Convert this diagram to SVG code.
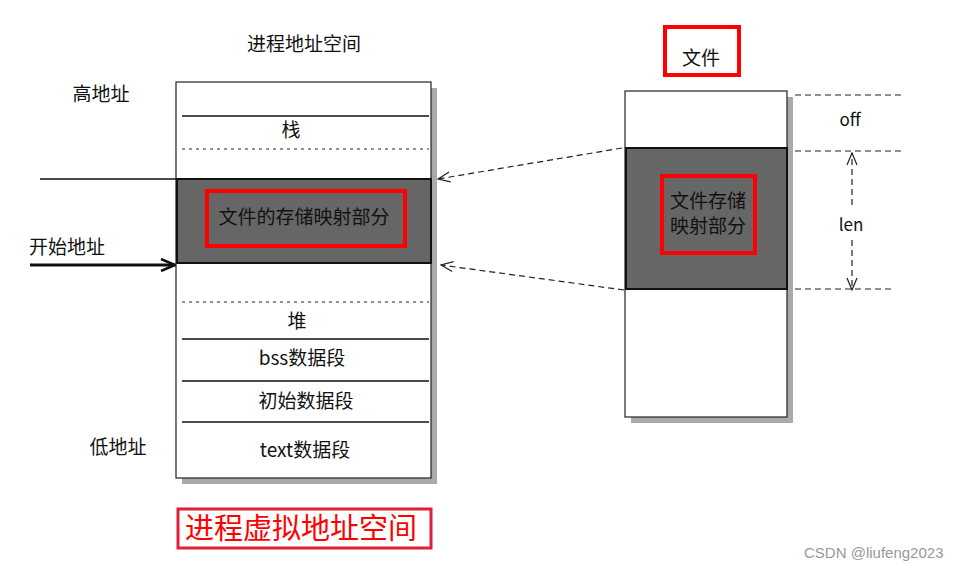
<svg xmlns="http://www.w3.org/2000/svg" width="970" height="571" viewBox="0 0 970 571">
<defs>
<style>
text{font-family:"Noto Sans CJK SC","DejaVu Sans",sans-serif;fill:#111;font-size:19px}
.c{text-anchor:middle}
.box{fill:#fff;stroke:#222;stroke-width:1.2}
.shadow{fill:#aaa}
.dark{fill:#666;stroke:#111;stroke-width:2}
.sep{stroke:#111;stroke-width:1.5}
.dot{stroke:#222;stroke-width:1;stroke-dasharray:3 4}
.dash{stroke:#222;stroke-width:1.2;stroke-dasharray:6 4;fill:none}
.red{fill:none;stroke:#f00;stroke-width:4}
</style>
<marker id="open" markerWidth="14" markerHeight="12" refX="13" refY="6" orient="auto" markerUnits="userSpaceOnUse">
<path d="M1,1 L13,6 L1,11" fill="none" stroke="#222" stroke-width="1.2"/>
</marker>
<marker id="bold" markerWidth="16" markerHeight="14" refX="15" refY="7" orient="auto" markerUnits="userSpaceOnUse">
<path d="M1,1 L15,7 L1,13" fill="none" stroke="#111" stroke-width="2.5"/>
</marker>
</defs>
<rect width="970" height="571" fill="#fff"/>

<g id="process-space">
<rect class="shadow" x="182" y="88" width="255" height="396"/>
<rect class="box" x="176" y="82" width="255" height="396"/>
<line class="sep" x1="182" y1="116" x2="429" y2="116"/>
<text class="c" x="291" y="137">栈</text>
<line class="dot" x1="182" y1="149" x2="429" y2="149"/>
<rect class="dark" x="177" y="179" width="254" height="84"/>
<rect class="red" x="207" y="191" width="198" height="55"/>
<text class="c" x="304" y="224">文件的存储映射部分</text>
<line class="dot" x1="182" y1="302" x2="429" y2="302"/>
<text class="c" x="297" y="328">堆</text>
<line class="sep" x1="182" y1="339" x2="429" y2="339"/>
<text class="c" x="302" y="365">bss数据段</text>
<line class="sep" x1="182" y1="381" x2="429" y2="381"/>
<text class="c" x="306" y="408">初始数据段</text>
<line class="sep" x1="182" y1="422" x2="429" y2="422"/>
<text class="c" x="305" y="457">text数据段</text>
</g>

<g id="labels-left">
<text class="c" x="304" y="51">进程地址空间</text>
<text class="c" x="101" y="101">高地址</text>
<text class="c" x="118" y="454">低地址</text>
<text class="c" x="67" y="254">开始地址</text>
</g>

<g id="file">
<rect class="red" x="665" y="27" width="74" height="48"/>
<text class="c" x="701" y="65">文件</text>
<rect class="shadow" x="631" y="97" width="162" height="326"/>
<rect class="box" x="625" y="91" width="162" height="326"/>
<rect class="dark" x="626" y="148" width="161" height="141"/>
<rect class="red" x="662" y="176" width="93" height="77"/>
<text class="c" x="708" y="208">文件存储</text>
<text class="c" x="708" y="233">映射部分</text>
<text class="c" x="850" y="126" style="font-size:17px">off</text>
<text class="c" x="851" y="231" style="font-size:17px">len</text>
</g>

<g id="connectors">
<line class="sep" x1="40" y1="179" x2="176" y2="179"/>
<line x1="30" y1="265" x2="175" y2="265" stroke="#111" stroke-width="3" marker-end="url(#bold)"/>
<line class="dash" x1="622" y1="148" x2="438" y2="179" marker-end="url(#open)"/>
<line class="dash" x1="624" y1="290" x2="441" y2="265" marker-end="url(#open)"/>
<line class="dash" x1="795" y1="95" x2="903" y2="95"/>
<line class="dash" x1="795" y1="151" x2="905" y2="151"/>
<line class="dash" x1="795" y1="289" x2="893" y2="289"/>
<line class="dash" x1="852" y1="205" x2="852" y2="153" marker-end="url(#open)"/>
<line class="dash" x1="852" y1="240" x2="852" y2="290" marker-end="url(#open)"/>
</g>

<g id="caption">
<rect x="178" y="509" width="253" height="39" fill="none" stroke="#e0203a" stroke-width="3"/>
<text class="c" x="301" y="539" style="font-size:29px;fill:#f00">进程虚拟地址空间</text>
</g>

<text x="804" y="558" style="font-size:15px;fill:#999;font-family:'Liberation Sans',sans-serif">CSDN @liufeng2023</text>
</svg>
